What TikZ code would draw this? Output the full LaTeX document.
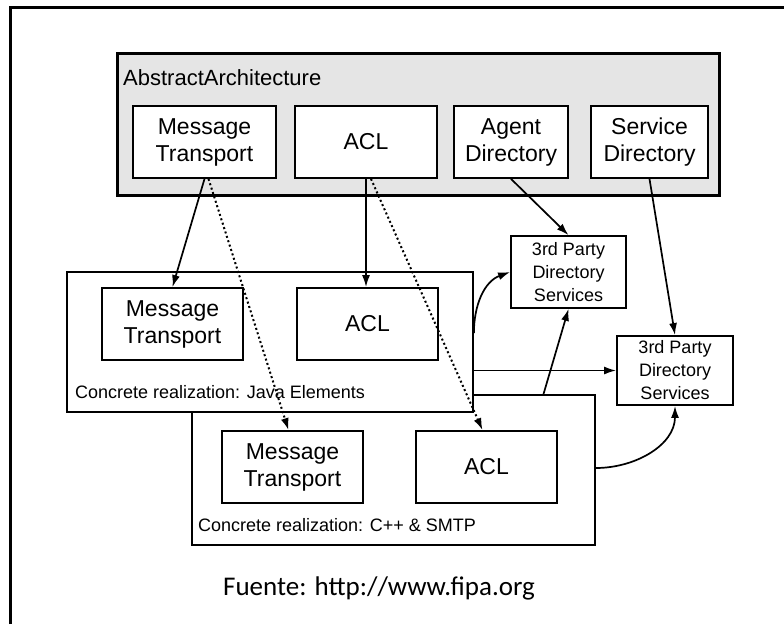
\documentclass[tikz,border=0pt]{standalone}
\usepackage{fontspec}
\setmainfont{Liberation Sans}
\newfontfamily\fuentefont{Carlito}
\usetikzlibrary{shapes}
\usetikzlibrary{arrows,arrows.meta}

\begin{document}
\begin{tikzpicture}[x=1pt,y=-1pt,
	box/.style={rectangle,draw,line width=1.8pt,fill=white,minimum height=72pt,align=center,inner sep=0pt,font=\fontsize{23}{27}\selectfont},
	party/.style={box,font=\fontsize{18}{23}\selectfont},
	realization/.style={rectangle,draw,line width=1.8pt,fill=white,inner sep=0pt},
	caption/.style={anchor=west,inner sep=0pt,font=\fontsize{18}{22}\selectfont},
	conn/.style={line width=1.7pt,-{Latex[length=12pt,width=8pt]}},
	dots/.style={line width=2pt,dash pattern=on 2pt off 2.6pt}
	]
\useasboundingbox (0,0) rectangle (784,624);
\draw[line width=3pt] (10,624) -- (10,7) -- (784,7);

% abstract architecture
\node[rectangle,draw,line width=3pt,fill=gray!20,minimum width=602pt,minimum height=142pt](abs) at (418,124){};
\node[anchor=west,inner sep=0pt,font=\fontsize{22}{26}\selectfont](abstitle) at (123,78){AbstractArchitecture};
\node[box,minimum width=143pt](amt) at (204.5,142){Message\\Transport};
\node[box,minimum width=142pt](aacl) at (366,142){ACL};
\node[box,minimum width=114pt](aad) at (511,142){Agent\\Directory};
\node[box,minimum width=117pt](asd) at (649.5,142){Service\\Directory};

% concrete realizations
\node[realization,minimum width=403pt,minimum height=150pt](cpp) at (393.5,470){};
\node[realization,minimum width=406pt,minimum height=140pt](java) at (270,342){};
\node[box,minimum width=141pt](jmt) at (172.5,324){Message\\Transport};
\node[box,minimum width=141pt](jacl) at (367.5,324){ACL};
\node[caption](javalabel) at (75,392){Concrete realization: Java Elements};
\node[box,minimum width=141pt](cmt) at (292.5,467){Message\\Transport};
\node[box,minimum width=141pt](cacl) at (486.5,467){ACL};
\node[caption](cpplabel) at (198,525){Concrete realization: C++ \& SMTP};

% directory services
\node[party,minimum width=115pt](tpa) at (568.5,272){3rd Party\\Directory\\Services};
\node[party,minimum width=116pt,minimum height=69pt](tpb) at (675,370.5){3rd Party\\Directory\\Services};

\draw[conn] (amt.south) -- (jmt.north);
\draw[conn,dots] ([xshift=4pt]amt.south) -- ([xshift=-4pt]cmt.north);
\draw[conn] (aacl.south) -- (aacl.south |- jacl.north);
\draw[conn,dots] ([xshift=5pt]aacl.south) -- ([xshift=-4pt]cacl.north);
\draw[conn] (aad.south) -- (tpa.north);
\draw[conn] (asd.south) -- (tpb.north);
\draw[conn] ([yshift=9pt]java.east) to[out=90,in=200] (tpa.west);
\draw[conn] (java.east |- tpb.west) -- (tpb.west);
\draw[conn] ([xshift=150pt]cpp.north) -- (tpa.south);
\draw[conn] ([yshift=2pt]cpp.east) to[out=0,in=-90] (tpb.south);

\node[font=\fuentefont\fontsize{27}{32}\selectfont](fuente) at (379,588){Fuente: http://www.fipa.org};
\end{tikzpicture}
\end{document}
